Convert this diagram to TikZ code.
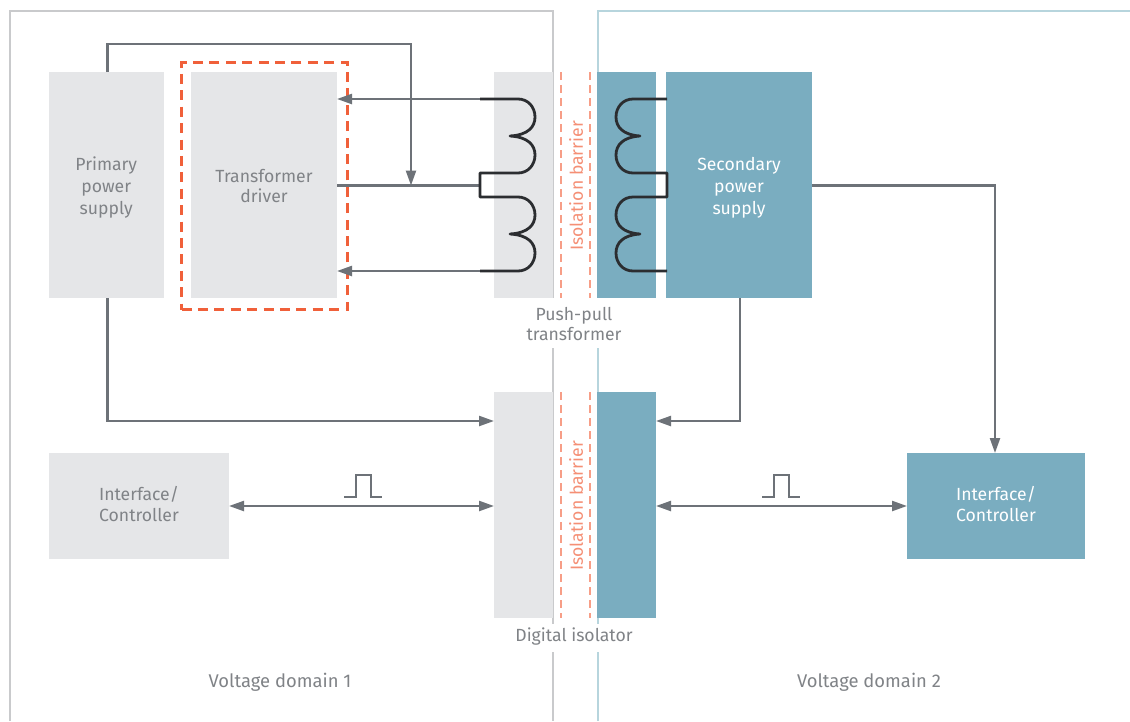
\documentclass[tikz,border=0pt]{standalone}
\usepackage{fontspec}
\setmainfont{Fira Sans}[Scale=1]
\usetikzlibrary{arrows.meta,calc}
\definecolor{gbox}{HTML}{E5E6E8}
\definecolor{tbox}{HTML}{7AADC0}
\definecolor{wire}{HTML}{6D7278}
\definecolor{coil}{HTML}{2B2D30}
\definecolor{dashred}{HTML}{F0603A}
\definecolor{barrier}{HTML}{F79E87}
\definecolor{bartxt}{HTML}{F58F75}
\definecolor{greytext}{HTML}{808387}
\definecolor{dom1}{HTML}{C9CACC}
\definecolor{dom2}{HTML}{B7D5DD}
\tikzset{
  x=1pt,y=-1pt,
  box/.style={draw=none,inner sep=0pt,outer sep=0pt,align=center,font=\fontsize{17.6}{22}\selectfont},
  gbox/.style={box,fill=gbox,text=greytext},
  tbox/.style={box,fill=tbox,text=white},
  lab/.style={inner sep=1pt,align=center,text=greytext,font=\fontsize{17.6}{20}\selectfont},
  conn/.style={draw=wire,line width=2.3pt,-{Triangle[length=15pt,width=10pt]}},
  plainconn/.style={draw=wire,line width=2.3pt},
  biconn/.style={draw=wire,line width=2.3pt,{Triangle[length=15pt,width=10pt]}-{Triangle[length=15pt,width=10pt]}},
  coilline/.style={draw=coil,line width=2.8pt,line join=round},
  barline/.style={draw=barrier,line width=1.8pt,dash pattern=on 8pt off 5pt},
  bartext/.style={rotate=90,text=bartxt,inner sep=0pt,font=\fontsize{17.6}{18}\selectfont},
  pulse/.style={draw=wire,line width=1.4pt},
}
\newcommand{\mkbox}[7]{\node[#1,minimum width=#4-#3,minimum height=#6-#5,anchor=north west] (#2) at (#3,#5) {#7};}
\begin{document}
\begin{tikzpicture}
\useasboundingbox (0,0) rectangle (1130,721);
\fill[white] (0,0) rectangle (1130,721);
% domains
\draw[dom1,line width=2pt] (9.5,721) -- (9.5,11) -- (553,11) -- (553,721);
\draw[dom2,line width=2.4pt] (598,721) -- (598,11) -- (1130,11);
% white label bands
\fill[white] (500,298) rectangle (650,348);
\fill[white] (500,624) rectangle (650,652);
% boxes
\mkbox{gbox}{prim}{49}{163.5}{72}{298}{\\[-3pt]Primary\\power\\supply}
\mkbox{gbox}{drv}{191}{337}{72}{298}{\\[-6pt]Transformer\\[-2pt]driver}
\mkbox{gbox}{tl}{494}{553}{72}{298}{}
\mkbox{tbox}{tr}{597}{656}{72}{298}{}
\mkbox{tbox}{sec}{666}{812}{72}{298}{\\[-3pt]Secondary\\power\\supply}
\mkbox{gbox}{il}{494}{553}{392}{618}{}
\mkbox{tbox}{ir}{597}{656}{392}{618}{}
\mkbox{gbox}{cl}{49}{229}{453}{559}{\\[-12pt]Interface/\\[-1pt]Controller}
\mkbox{tbox}{cr}{907}{1085}{453}{559}{\\[-12pt]Interface/\\[-1pt]Controller}
% dashed driver frame
\node[draw=dashred,line width=3pt,dash pattern=on 10pt off 6.4pt,inner sep=0pt,outer sep=0pt,minimum width=166,minimum height=247,anchor=north west] (frame) at (181.5,62.5) {};
% named connector ends
\coordinate (ltop) at (480,99);
\coordinate (lmid) at (480,185.5);
\coordinate (lbot) at (480,271);
\coordinate (tap) at (411,185.5);
\coordinate (seg1) at (107.5,44);
\coordinate (seg2) at (411,44);
\coordinate (dtop) at (drv.east |- ltop);
\coordinate (dmid) at (drv.east |- lmid);
\coordinate (dbot) at (drv.east |- lbot);
\coordinate (pin) at (il.west |- 0,421);
\coordinate (pcorner) at (seg1 |- pin);
\coordinate (sin) at (ir.east |- 0,421);
\coordinate (scorner) at (740 ,421);
\coordinate (sr) at (sec.east |- lmid);
\coordinate (crt) at (995,453);
\coordinate (srcorner) at (995,185.5);
\coordinate (clm) at (cl.east |- 0,506);
\coordinate (ilm) at (il.west |- 0,506);
\coordinate (irm) at (ir.east |- 0,506);
\coordinate (crm) at (cr.west |- 0,506);
% connectors
\draw[conn] (ltop) -- (dtop);
\draw[conn] (lbot) -- (dbot);
\draw[plainconn] (lmid) -- (dmid);
\draw[conn] (seg1 |- prim.north) -- (seg1) -- (seg2) -- (tap);
\draw[conn] (seg1 |- prim.south) -- (pcorner) -- (pin);
\draw[conn] (scorner |- sec.south) -- (scorner) -- (sin);
\draw[conn] (sr) -- (srcorner) -- (crt);
\draw[biconn] (clm) -- (ilm);
\draw[biconn] (irm) -- (crm);
% coils
\draw[coilline] (ltop) -- (518,99)
  .. controls (528,99) and (535,107) .. (535,117)
  .. controls (535,127) and (528,135) .. (510,136)
  .. controls (528,137) and (535,145) .. (535,155)
  .. controls (535,165) and (528,173) .. (518,173)
  -- (480,173) -- (480,197) -- (518,197)
  .. controls (528,197) and (535,205) .. (535,215)
  .. controls (535,225) and (528,233) .. (510,234)
  .. controls (528,235) and (535,243) .. (535,253)
  .. controls (535,263) and (528,271) .. (518,271) -- (lbot);
\draw[coilline] (tr.east |- ltop) ++(11,0) -- (633,99)
  .. controls (623,99) and (616,107) .. (616,117)
  .. controls (616,127) and (623,135) .. (640,136)
  .. controls (623,137) and (616,145) .. (616,155)
  .. controls (616,165) and (623,173) .. (633,173)
  -- (667,173) -- (667,197) -- (633,197)
  .. controls (623,197) and (616,205) .. (616,215)
  .. controls (616,225) and (623,233) .. (640,234)
  .. controls (623,235) and (616,243) .. (616,253)
  .. controls (616,263) and (623,271) .. (633,271) -- (667,271);
% barriers
\draw[barline] (561,72) -- (561,298);
\draw[barline] (590,72) -- (590,298);
\draw[barline] (561,392) -- (561,618);
\draw[barline] (590,392) -- (590,618);
\node[bartext] (bar1) at (576,186) {Isolation barrier};
\node[bartext] (bar2) at (576,506) {Isolation barrier};
% pulses
\draw[pulse] (344,497) -- (356,497) -- (356,475) -- (371,475) -- (371,497) -- (382,497);
\draw[pulse] (762,497) -- (774,497) -- (774,475) -- (789,475) -- (789,497) -- (800,497);
% labels
\node[lab] (pp) at (574,324) {Push-pull\\transformer};
\node[lab] (di) at (574,636) {Digital isolator};
\node[lab,font=\fontsize{18.4}{20}\selectfont] (v1) at (280,682.5) {Voltage domain 1};
\node[lab,font=\fontsize{18.4}{20}\selectfont] (v2) at (869,682.5) {Voltage domain 2};
\end{tikzpicture}
\end{document}
